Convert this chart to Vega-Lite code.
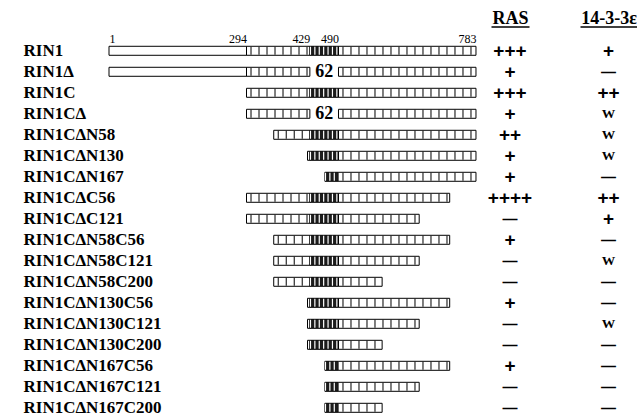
{
  "$schema": "https://vega.github.io/schema/vega-lite/v6.json",
  "padding": {"left": 0, "top": 9, "right": 0, "bottom": 0},
  "background": "white",
  "bounds": "flush",
  "spacing": 13,
  "config": {
    "view": {"stroke": null},
    "axis": {"grid": false, "ticks": false, "domain": false}
  },
  "datasets": {
    "segments": [
      {"name": "RIN1", "seg": "N", "start": 1, "end": 294},
      {"name": "RIN1", "seg": "L", "start": 294, "end": 429},
      {"name": "RIN1", "seg": "D", "start": 429, "end": 490},
      {"name": "RIN1", "seg": "L", "start": 490, "end": 783},
      {"name": "RIN1Δ", "seg": "N", "start": 1, "end": 294},
      {"name": "RIN1Δ", "seg": "L", "start": 294, "end": 429},
      {"name": "RIN1Δ", "seg": "L", "start": 490, "end": 783},
      {"name": "RIN1C", "seg": "L", "start": 294, "end": 429},
      {"name": "RIN1C", "seg": "D", "start": 429, "end": 490},
      {"name": "RIN1C", "seg": "L", "start": 490, "end": 783},
      {"name": "RIN1CΔ", "seg": "L", "start": 294, "end": 429},
      {"name": "RIN1CΔ", "seg": "L", "start": 490, "end": 783},
      {"name": "RIN1CΔN58", "seg": "L", "start": 352, "end": 429},
      {"name": "RIN1CΔN58", "seg": "D", "start": 429, "end": 490},
      {"name": "RIN1CΔN58", "seg": "L", "start": 490, "end": 783},
      {"name": "RIN1CΔN130", "seg": "L", "start": 424, "end": 429},
      {"name": "RIN1CΔN130", "seg": "D", "start": 429, "end": 490},
      {"name": "RIN1CΔN130", "seg": "L", "start": 490, "end": 783},
      {"name": "RIN1CΔN167", "seg": "D", "start": 461, "end": 490},
      {"name": "RIN1CΔN167", "seg": "L", "start": 490, "end": 783},
      {"name": "RIN1CΔC56", "seg": "L", "start": 294, "end": 429},
      {"name": "RIN1CΔC56", "seg": "D", "start": 429, "end": 490},
      {"name": "RIN1CΔC56", "seg": "L", "start": 490, "end": 727},
      {"name": "RIN1CΔC121", "seg": "L", "start": 294, "end": 429},
      {"name": "RIN1CΔC121", "seg": "D", "start": 429, "end": 490},
      {"name": "RIN1CΔC121", "seg": "L", "start": 490, "end": 662},
      {"name": "RIN1CΔN58C56", "seg": "L", "start": 352, "end": 429},
      {"name": "RIN1CΔN58C56", "seg": "D", "start": 429, "end": 490},
      {"name": "RIN1CΔN58C56", "seg": "L", "start": 490, "end": 727},
      {"name": "RIN1CΔN58C121", "seg": "L", "start": 352, "end": 429},
      {"name": "RIN1CΔN58C121", "seg": "D", "start": 429, "end": 490},
      {"name": "RIN1CΔN58C121", "seg": "L", "start": 490, "end": 662},
      {"name": "RIN1CΔN58C200", "seg": "L", "start": 352, "end": 429},
      {"name": "RIN1CΔN58C200", "seg": "D", "start": 429, "end": 490},
      {"name": "RIN1CΔN58C200", "seg": "L", "start": 490, "end": 583},
      {"name": "RIN1CΔN130C56", "seg": "L", "start": 424, "end": 429},
      {"name": "RIN1CΔN130C56", "seg": "D", "start": 429, "end": 490},
      {"name": "RIN1CΔN130C56", "seg": "L", "start": 490, "end": 727},
      {"name": "RIN1CΔN130C121", "seg": "L", "start": 424, "end": 429},
      {"name": "RIN1CΔN130C121", "seg": "D", "start": 429, "end": 490},
      {"name": "RIN1CΔN130C121", "seg": "L", "start": 490, "end": 662},
      {"name": "RIN1CΔN130C200", "seg": "L", "start": 424, "end": 429},
      {"name": "RIN1CΔN130C200", "seg": "D", "start": 429, "end": 490},
      {"name": "RIN1CΔN130C200", "seg": "L", "start": 490, "end": 583},
      {"name": "RIN1CΔN167C56", "seg": "D", "start": 461, "end": 490},
      {"name": "RIN1CΔN167C56", "seg": "L", "start": 490, "end": 727},
      {"name": "RIN1CΔN167C121", "seg": "D", "start": 461, "end": 490},
      {"name": "RIN1CΔN167C121", "seg": "L", "start": 490, "end": 662},
      {"name": "RIN1CΔN167C200", "seg": "D", "start": 461, "end": 490},
      {"name": "RIN1CΔN167C200", "seg": "L", "start": 490, "end": 583}
    ],
    "deletions": [
      {"name": "RIN1Δ", "start": 459.5, "label": "62"},
      {"name": "RIN1CΔ", "start": 459.5, "label": "62"}
    ],
    "results": [
      {"name": "RIN1", "assay": "RAS", "value": "+++"},
      {"name": "RIN1Δ", "assay": "RAS", "value": "+"},
      {"name": "RIN1C", "assay": "RAS", "value": "+++"},
      {"name": "RIN1CΔ", "assay": "RAS", "value": "+"},
      {"name": "RIN1CΔN58", "assay": "RAS", "value": "++"},
      {"name": "RIN1CΔN130", "assay": "RAS", "value": "+"},
      {"name": "RIN1CΔN167", "assay": "RAS", "value": "+"},
      {"name": "RIN1CΔC56", "assay": "RAS", "value": "++++"},
      {"name": "RIN1CΔC121", "assay": "RAS", "value": "—"},
      {"name": "RIN1CΔN58C56", "assay": "RAS", "value": "+"},
      {"name": "RIN1CΔN58C121", "assay": "RAS", "value": "—"},
      {"name": "RIN1CΔN58C200", "assay": "RAS", "value": "—"},
      {"name": "RIN1CΔN130C56", "assay": "RAS", "value": "+"},
      {"name": "RIN1CΔN130C121", "assay": "RAS", "value": "—"},
      {"name": "RIN1CΔN130C200", "assay": "RAS", "value": "—"},
      {"name": "RIN1CΔN167C56", "assay": "RAS", "value": "+"},
      {"name": "RIN1CΔN167C121", "assay": "RAS", "value": "—"},
      {"name": "RIN1CΔN167C200", "assay": "RAS", "value": "—"},
      {"name": "RIN1", "assay": "14-3-3ε", "value": "+"},
      {"name": "RIN1Δ", "assay": "14-3-3ε", "value": "—"},
      {"name": "RIN1C", "assay": "14-3-3ε", "value": "++"},
      {"name": "RIN1CΔ", "assay": "14-3-3ε", "value": "W"},
      {"name": "RIN1CΔN58", "assay": "14-3-3ε", "value": "W"},
      {"name": "RIN1CΔN130", "assay": "14-3-3ε", "value": "W"},
      {"name": "RIN1CΔN167", "assay": "14-3-3ε", "value": "—"},
      {"name": "RIN1CΔC56", "assay": "14-3-3ε", "value": "++"},
      {"name": "RIN1CΔC121", "assay": "14-3-3ε", "value": "+"},
      {"name": "RIN1CΔN58C56", "assay": "14-3-3ε", "value": "—"},
      {"name": "RIN1CΔN58C121", "assay": "14-3-3ε", "value": "W"},
      {"name": "RIN1CΔN58C200", "assay": "14-3-3ε", "value": "—"},
      {"name": "RIN1CΔN130C56", "assay": "14-3-3ε", "value": "—"},
      {"name": "RIN1CΔN130C121", "assay": "14-3-3ε", "value": "W"},
      {"name": "RIN1CΔN130C200", "assay": "14-3-3ε", "value": "—"},
      {"name": "RIN1CΔN167C56", "assay": "14-3-3ε", "value": "—"},
      {"name": "RIN1CΔN167C121", "assay": "14-3-3ε", "value": "—"},
      {"name": "RIN1CΔN167C200", "assay": "14-3-3ε", "value": "—"}
    ]
  },
  "hconcat": [
    {
      "width": 478,
      "height": 368.6,
      "encoding": {
        "y": {
          "field": "name", "type": "nominal",
          "scale": {"type": "point", "padding": 0.276, "domain": ["RIN1", "RIN1Δ", "RIN1C", "RIN1CΔ", "RIN1CΔN58", "RIN1CΔN130", "RIN1CΔN167", "RIN1CΔC56", "RIN1CΔC121", "RIN1CΔN58C56", "RIN1CΔN58C121", "RIN1CΔN58C200", "RIN1CΔN130C56", "RIN1CΔN130C121", "RIN1CΔN130C200", "RIN1CΔN167C56", "RIN1CΔN167C121", "RIN1CΔN167C200"]},
          "axis": {"title": null, "orient": "left", "labelAlign": "left", "labelPadding": -23, "labelFont": "Liberation Serif", "labelFontWeight": "bold", "labelFontSize": 17, "labelColor": "black", "labelLimit": 300, "minExtent": 0, "maxExtent": 0, "labelBound": false}
        },
        "x": {
          "field": "start", "type": "quantitative",
          "scale": {"domain": [-231.3, 787.3], "nice": false, "zero": false},
          "axis": {"orient": "top", "title": null, "values": [1, 294, 429, 490, 783], "labelFont": "Liberation Serif", "labelFontSize": 12, "labelColor": "black", "labelPadding": -1, "labelFlush": false, "labelOverlap": false, "labelAngle": 0, "labelAlign": {"condition": {"test": "datum.value == 1", "value": "left"}, "value": "right"}}
        }
      },
      "layer": [
        {
          "data": {"name": "segments"},
          "mark": {"type": "bar", "height": 9, "stroke": "black", "strokeWidth": 1},
          "encoding": {
            "x2": {"field": "end"},
            "fill": {"field": "seg", "type": "nominal", "scale": {"domain": ["N", "L", "D"], "range": ["#ffffff", "#ffffff", "#1c1c1c"]}, "legend": null}
          }
        },
        {
          "data": {"name": "segments"},
          "transform": [{"filter": "datum.seg == 'L'"}],
          "mark": {"type": "rule", "strokeWidth": 8, "strokeDash": [1, 7], "strokeDashOffset": -4, "color": "black"},
          "encoding": {"x2": {"field": "end"}}
        },
        {
          "data": {"name": "segments"},
          "transform": [{"filter": "datum.seg == 'D'"}],
          "mark": {"type": "rule", "strokeWidth": 8, "strokeDash": [1.2, 3.2], "color": "white"},
          "encoding": {"x2": {"field": "end"}}
        },
        {
          "data": {"name": "deletions"},
          "mark": {"type": "text", "font": "Liberation Serif", "fontWeight": "bold", "fontSize": 18, "color": "black"},
          "encoding": {"text": {"field": "label"}}
        }
      ]
    },
    {
      "spacing": 51,
      "bounds": "flush",
      "hconcat": [
        {
          "width": 38,
          "height": 368.6,
          "data": {"name": "results"},
          "transform": [{"filter": "datum.assay == 'RAS'"}],
          "encoding": {
            "x": {"datum": "RAS", "type": "nominal", "axis": {"orient": "top", "title": null, "offset": 18.5, "domain": true, "domainColor": "black", "domainWidth": 1.5, "labelAngle": 0, "labelFont": "Liberation Serif", "labelFontWeight": "bold", "labelFontSize": 18, "labelColor": "black", "labelPadding": -1}},
            "y": {"field": "name", "type": "nominal", "scale": {"type": "point", "padding": 0.276, "domain": ["RIN1", "RIN1Δ", "RIN1C", "RIN1CΔ", "RIN1CΔN58", "RIN1CΔN130", "RIN1CΔN167", "RIN1CΔC56", "RIN1CΔC121", "RIN1CΔN58C56", "RIN1CΔN58C121", "RIN1CΔN58C200", "RIN1CΔN130C56", "RIN1CΔN130C121", "RIN1CΔN130C200", "RIN1CΔN167C56", "RIN1CΔN167C121", "RIN1CΔN167C200"]}, "axis": null},
            "text": {"field": "value"}
          },
          "layer": [
            {"transform": [{"filter": "indexof(datum.value, '+') >= 0"}], "mark": {"type": "text", "font": "Liberation Sans", "fontWeight": "bold", "fontSize": 19, "color": "black"}},
            {"transform": [{"filter": "datum.value == '—'"}], "mark": {"type": "text", "font": "Liberation Sans", "fontWeight": "bold", "fontSize": 15, "color": "black"}},
            {"transform": [{"filter": "datum.value == 'W'"}], "mark": {"type": "text", "font": "Liberation Serif", "fontWeight": "bold", "fontSize": 13.5, "color": "black"}}
          ]
        },
        {
          "width": 57,
          "height": 368.6,
          "data": {"name": "results"},
          "transform": [{"filter": "datum.assay == '14-3-3ε'"}],
          "encoding": {
            "x": {"datum": "14-3-3ε", "type": "nominal", "axis": {"orient": "top", "title": null, "offset": 18.5, "domain": true, "domainColor": "black", "domainWidth": 1.5, "labelAngle": 0, "labelFont": "Liberation Serif", "labelFontWeight": "bold", "labelFontSize": 18, "labelColor": "black", "labelPadding": -1}},
            "y": {"field": "name", "type": "nominal", "scale": {"type": "point", "padding": 0.276, "domain": ["RIN1", "RIN1Δ", "RIN1C", "RIN1CΔ", "RIN1CΔN58", "RIN1CΔN130", "RIN1CΔN167", "RIN1CΔC56", "RIN1CΔC121", "RIN1CΔN58C56", "RIN1CΔN58C121", "RIN1CΔN58C200", "RIN1CΔN130C56", "RIN1CΔN130C121", "RIN1CΔN130C200", "RIN1CΔN167C56", "RIN1CΔN167C121", "RIN1CΔN167C200"]}, "axis": null},
            "text": {"field": "value"}
          },
          "layer": [
            {"transform": [{"filter": "indexof(datum.value, '+') >= 0"}], "mark": {"type": "text", "font": "Liberation Sans", "fontWeight": "bold", "fontSize": 19, "color": "black"}},
            {"transform": [{"filter": "datum.value == '—'"}], "mark": {"type": "text", "font": "Liberation Sans", "fontWeight": "bold", "fontSize": 15, "color": "black"}},
            {"transform": [{"filter": "datum.value == 'W'"}], "mark": {"type": "text", "font": "Liberation Serif", "fontWeight": "bold", "fontSize": 13.5, "color": "black"}}
          ]
        }
      ]
    }
  ]
}
